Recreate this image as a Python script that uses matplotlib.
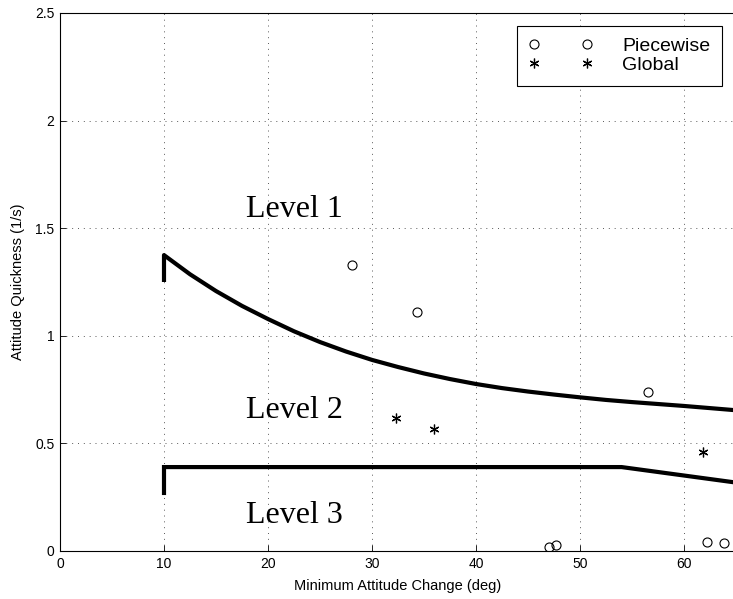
import matplotlib
matplotlib.use("Agg")
import matplotlib.pyplot as plt
from matplotlib.lines import Line2D

# ---- data ----
lvl12_x = [10, 10, 12.5, 15, 17.5, 20, 22.5, 25, 27.5, 30, 32.5, 35, 37.5, 40,
           42.5, 45, 47.5, 50, 52.5, 55, 57.5, 60, 62.5, 65]
lvl12_y = [1.25, 1.375, 1.286, 1.208, 1.139, 1.078, 1.021, 0.971, 0.927, 0.888, 0.855, 0.825, 0.799, 0.776,
           0.757, 0.741, 0.727, 0.714, 0.702, 0.692, 0.683, 0.674, 0.664, 0.654]
lvl23_x = [10, 10, 54, 65]
lvl23_y = [0.26, 0.39, 0.39, 0.318]

piece_x = [28.1, 34.3, 56.5, 47.0, 47.7, 62.2, 63.8]
piece_y = [1.33, 1.11, 0.74, 0.017, 0.028, 0.043, 0.036]
glob_x = [32.3, 36.0, 61.8]
glob_y = [0.62, 0.567, 0.459]

level_labels = ["Level 1", "Level 2", "Level 3"]
level_label_x = [17.9, 17.9, 17.9]
level_label_y = [1.55, 0.62, 0.13]

xticks = [0, 10, 20, 30, 40, 50, 60]
yticks = [0, 0.5, 1, 1.5, 2, 2.5]
xlabel = "Minimum Attitude Change (deg)"
ylabel = "Attitude Quickness (1/s)"
legend_labels = ["Piecewise", "Global"]

W, H = 733, 599
fig = plt.figure(figsize=(W / 100, H / 100), dpi=100)
left, right, bottom, top = 60, 736, 551, 13
ax = fig.add_axes([left / W, 1 - bottom / H, (right - left) / W, (bottom - top) / H])

sans = "Liberation Sans"
serif = "Liberation Serif"

ax.plot(lvl12_x, lvl12_y, color="black", lw=3.0, solid_joinstyle="round", solid_capstyle="butt", zorder=3)
ax.plot(lvl23_x, lvl23_y, color="black", lw=3.0, solid_joinstyle="miter", solid_capstyle="butt", zorder=3)

star = (6, 2, 0)
ax.plot(piece_x, piece_y, linestyle="none", marker="o", ms=6.5, mfc="none", mec="black", mew=0.8, zorder=4)
ax.plot(glob_x, glob_y, linestyle="none", marker=star, ms=7, mec="black", mew=0.9, zorder=4)

for t, x, y in zip(level_labels, level_label_x, level_label_y):
    ax.text(x, y, t, family=serif, fontsize=23, ha="left", va="baseline")

ax.set_xlim(0, 65)
ax.set_ylim(0, 2.5)
ax.set_xticks(xticks)
ax.set_yticks(yticks)
ax.set_xticklabels([str(v) for v in xticks], family=sans, fontsize=10)
ax.set_yticklabels(["0", "0.5", "1", "1.5", "2", "2.5"], family=sans, fontsize=10)
ax.tick_params(direction="in", length=4, width=0.6, top=False, right=False, pad=4)
ax.grid(True, color="0.35", linestyle=(0, (1, 5)), linewidth=0.7)
for s in ax.spines.values():
    s.set_linewidth(0.8)

ax.set_xlabel(xlabel, family=sans, fontsize=10.5, labelpad=6)
ax.set_ylabel(ylabel, family=sans, fontsize=10.5, labelpad=7)

handles = [
    Line2D([], [], linestyle="none", marker="o", ms=6.5, mfc="none", mec="black", mew=0.8),
    Line2D([], [], linestyle="none", marker=star, ms=7, mec="black", mew=0.9),
]
leg = ax.legend(handles, legend_labels, loc="upper right",
                bbox_to_anchor=(722 / W, 1 - 26 / H), bbox_transform=fig.transFigure,
                borderaxespad=0, numpoints=2, handlelength=3.33, handletextpad=1.5,
                labelspacing=0.05, borderpad=0.6, fancybox=False, framealpha=1,
                edgecolor="black", prop={"family": sans, "size": 14})
leg.get_frame().set_linewidth(0.8)

fig.savefig("out.png", dpi=100)
